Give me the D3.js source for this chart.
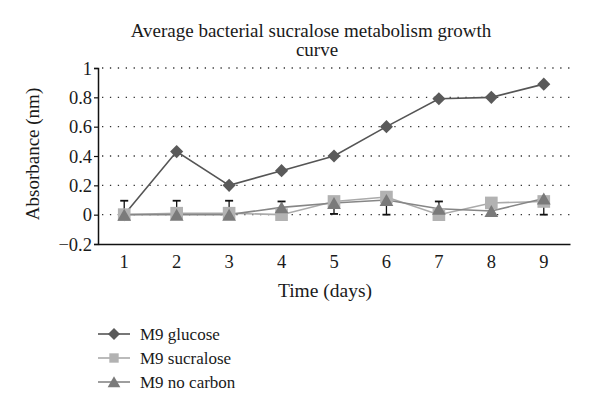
<!DOCTYPE html>
<html><head><meta charset="utf-8">
<script src="https://cdn.jsdelivr.net/npm/d3@7"></script>
<style>body{margin:0;background:#fff}svg{display:block}text{font-family:"Liberation Serif","DejaVu Serif",serif;fill:#1a1a1a}</style>
</head><body><svg id="c" width="600" height="418"></svg>
<script>
const days = ["1","2","3","4","5","6","7","8","9"];
const glucose = [0, 0.43, 0.20, 0.30, 0.40, 0.60, 0.79, 0.80, 0.89];
const sucralose = [0, 0.01, 0.01, 0, 0.09, 0.12, 0, 0.08, 0.09];
const noCarbon = [0, 0, 0, 0.05, 0.08, 0.10, 0.04, 0.025, 0.11];
const errUp = [0.095, 0.095, 0.095, 0.04, 0, 0, 0.05, 0, 0];
const errDown = [0, 0, 0, 0, 0.075, 0.10, 0, 0, 0.11];
const yTicks = [-0.2, 0, 0.2, 0.4, 0.6, 0.8, 1];
const seriesNames = ["M9 glucose", "M9 sucralose", "M9 no carbon"];

const svg = d3.select("#c");
const L = 98, R = 570, T = 68, B = 244;
const FS = 18.5;
const x = d3.scaleBand().domain(days).range([L, R]);
const cx = d => x(d) + x.bandwidth() / 2;
const y = d3.scaleLinear().domain([-0.2, 1]).range([B, T]);

// grid
svg.append("g").selectAll("line").data(yTicks.filter(t => t > -0.2)).join("line")
  .attr("x1", L + 4).attr("x2", R).attr("y1", d => y(d)).attr("y2", d => y(d))
  .attr("stroke", "#333").attr("stroke-width", 1.3).attr("stroke-dasharray", "1.3,6.6");

// axes
const ya = d3.axisLeft(y).tickValues(yTicks).tickSize(4).tickFormat(d => d < 0 ? "\u22120.2" : d3.format("")(+d.toFixed(1)));
const yg = svg.append("g").attr("transform", `translate(${L},0)`).call(ya);
yg.select(".domain").attr("stroke", "#111").attr("stroke-width", 1.5);
yg.selectAll(".tick line").attr("stroke", "#111").attr("stroke-width", 1.2);
yg.selectAll("text").attr("font-size", FS).attr("x", -6).attr("dy", "0.34em");

const xa = d3.axisBottom(x).tickSize(0).tickPadding(11);
const xg = svg.append("g").attr("transform", `translate(0,${B})`).call(xa);
xg.select(".domain").attr("stroke", "#111").attr("stroke-width", 1.6);
xg.selectAll("text").attr("font-size", FS);

// titles
svg.append("text").attr("x", 311).attr("y", 37).attr("text-anchor", "middle").attr("font-size", 19).text("Average bacterial sucralose metabolism growth");
svg.append("text").attr("x", 317).attr("y", 56).attr("text-anchor", "middle").attr("font-size", 19).text("curve");
svg.append("text").attr("x", 325).attr("y", 297).attr("text-anchor", "middle").attr("font-size", 19.5).text("Time (days)");
svg.append("text").attr("transform", `translate(39,154) rotate(-90)`).attr("text-anchor", "middle").attr("font-size", 19).text("Absorbance (nm)");

const line = d3.line().x((d, i) => cx(days[i])).y(d => y(d));
const series = [
  {vals: glucose, color: "#5a5a5a", line: "#555", sym: d3.symbolSquare, size: 86, rot: 45, dy: 0},
  {vals: sucralose, color: "#b2b2b2", line: "#aaa", sym: d3.symbolSquare, size: 160, rot: 0, dy: 0},
  {vals: noCarbon, color: "#7a7a7a", line: "#868686", sym: d3.symbolTriangle, size: 82, rot: 0, dy: 2}
];

series.forEach(s => {
  svg.append("path").datum(s.vals).attr("d", line).attr("fill", "none").attr("stroke", s.line).attr("stroke-width", 1.6);
});
// error bars (on no carbon series)
const eb = svg.append("g");
noCarbon.forEach((v, i) => {
  const X = cx(days[i]);
  [[errUp[i], 1], [errDown[i], -1]].forEach(([e, sgn]) => {
    if (e <= 0) return;
    const ye = y(v + sgn * e);
    eb.append("line").attr("x1", X).attr("x2", X).attr("y1", y(v)).attr("y2", ye).attr("stroke", "#111").attr("stroke-width", 1.3);
    eb.append("line").attr("x1", X - 4).attr("x2", X + 4).attr("y1", ye).attr("y2", ye).attr("stroke", "#111").attr("stroke-width", 1.8);
  });
});
series.forEach(s => {
  svg.append("g").selectAll("path").data(s.vals).join("path")
    .attr("d", d3.symbol().type(s.sym).size(s.size)())
    .attr("transform", (d, i) => `translate(${cx(days[i])},${y(d) + s.dy}) rotate(${s.rot})`)
    .attr("fill", s.color);
});

// legend
const lg = svg.append("g");
const ly = [334, 358, 382];
series.forEach((s, i) => {
  lg.append("line").attr("x1", 98).attr("x2", 130).attr("y1", ly[i]).attr("y2", ly[i]).attr("stroke", s.line).attr("stroke-width", 1.6);
  lg.append("path").attr("d", d3.symbol().type(s.sym).size(s.size * (i === 1 ? 0.55 : 0.85))())
    .attr("transform", `translate(114,${ly[i] + s.dy * 0.8}) rotate(${s.rot})`).attr("fill", s.color);
  lg.append("text").attr("x", 140).attr("y", ly[i]).attr("dy", "0.33em").attr("font-size", 17).text(seriesNames[i]);
});
</script></body></html>
